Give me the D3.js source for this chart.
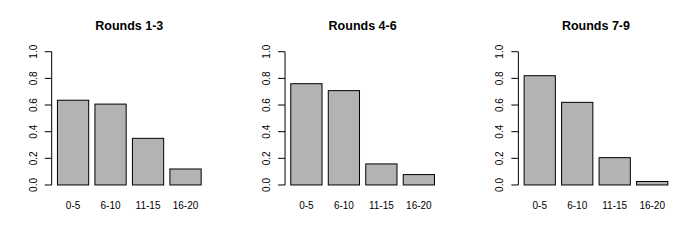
<!DOCTYPE html>
<html>
<head>
<meta charset="utf-8">
<script src="https://d3js.org/d3.v7.min.js"></script>
<style>
  html, body { margin: 0; padding: 0; background: #fff; }
  svg { display: block; }
  text { font-family: "Liberation Sans", Arial, Helvetica, sans-serif; fill: #000; }
</style>
</head>
<body>
<svg id="chart" width="700" height="250"></svg>
<script>
const categories = ["0-5", "6-10", "11-15", "16-20"];
const titles = ["Rounds 1-3", "Rounds 4-6", "Rounds 7-9"];
const rounds13 = [0.636, 0.607, 0.35, 0.12];
const rounds46 = [0.76, 0.708, 0.158, 0.078];
const rounds79 = [0.82, 0.62, 0.205, 0.026];
const yTicks = [0, 0.2, 0.4, 0.6, 0.8, 1.0];

const seriesList = [rounds13, rounds46, rounds79];

const W = 700, H = 250;
const svg = d3.select("#chart");
const panelW = W / 3;

// R-style barplot geometry: bars width 1, space 0.2, 4% axis extension
const n = categories.length;
const space = 0.2;
const xMin = space, xMax = n * (1 + space);
const ext = (xMax - xMin) * 0.04;
const plotLeft = 51.7, plotWidth = 155.2;
const yTop = 46.4, yBottom = 190.3;

const x = d3.scaleLinear().domain([xMin - ext, xMax + ext]).range([0, plotWidth]);
const y = d3.scaleLinear().domain([-0.04, 1.04]).range([yBottom, yTop]);

seriesList.forEach((vals, p) => {
  const g = svg.append("g").attr("transform", `translate(${p * panelW + plotLeft},0)`);

  // bars
  g.selectAll("rect.bar").data(vals).join("rect")
    .attr("class", "bar")
    .attr("x", (d, i) => x(space + i * (1 + space)))
    .attr("width", (d, i) => x(space + i * (1 + space) + 1) - x(space + i * (1 + space)))
    .attr("y", d => y(d))
    .attr("height", d => y(0) - y(d))
    .attr("fill", "#b3b3b3")
    .attr("stroke", "#000")
    .attr("stroke-width", 1);

  // y axis
  const axisG = g.append("g").attr("transform", `translate(${x(xMin - ext)},0)`);
  axisG.append("line")
    .attr("x1", 0).attr("x2", 0)
    .attr("y1", y(yTicks[0])).attr("y2", y(yTicks[yTicks.length - 1]))
    .attr("stroke", "#000").attr("stroke-width", 1);
  axisG.selectAll("line.tick").data(yTicks).join("line")
    .attr("class", "tick")
    .attr("x1", -7).attr("x2", 0)
    .attr("y1", d => y(d)).attr("y2", d => y(d))
    .attr("stroke", "#000").attr("stroke-width", 1);
  axisG.selectAll("text.tl").data(yTicks).join("text")
    .attr("class", "tl")
    .attr("transform", d => `translate(-15,${y(d)}) rotate(-90)`)
    .attr("text-anchor", "middle")
    .attr("font-size", "10px")
    .text(d => d.toFixed(1));

  // category labels
  g.selectAll("text.cat").data(categories).join("text")
    .attr("class", "cat")
    .attr("x", (d, i) => x(space + i * (1 + space) + 0.5))
    .attr("y", 208.5)
    .attr("text-anchor", "middle")
    .attr("font-size", "10px")
    .text(d => d);

  // title
  g.append("text")
    .attr("x", plotWidth / 2)
    .attr("y", 30)
    .attr("text-anchor", "middle")
    .attr("font-size", "12.5px")
    .attr("font-weight", "bold")
    .text(titles[p]);
});
</script>
</body>
</html>
